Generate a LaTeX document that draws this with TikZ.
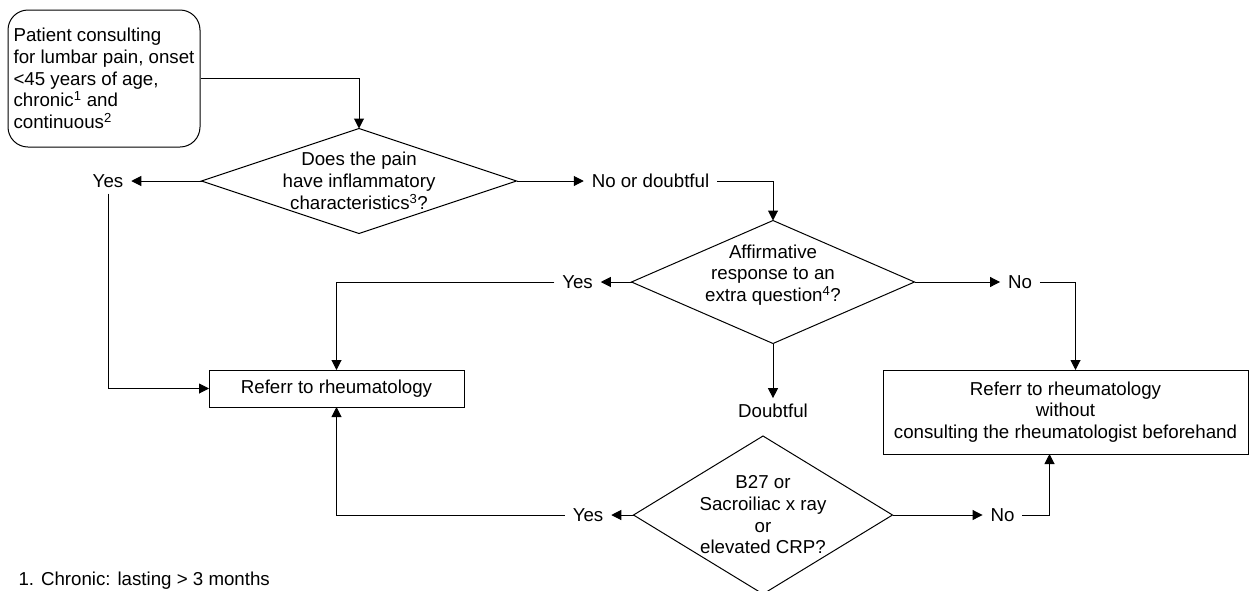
\documentclass[tikz,border=0pt]{standalone}
\usepackage{fontspec}
\setmainfont{Liberation Sans}
\usetikzlibrary{arrows.meta,positioning,shapes.geometric}

\begin{document}
\begin{tikzpicture}[x=1pt, y=-1pt, >={Triangle[length=10pt,width=10pt]}, line width=1pt, font=\fontsize{18.7}{21.7}\selectfont]
	    \tikzstyle{start}=[draw, rectangle, rounded corners=20pt, align=left, minimum width=192pt, minimum height=137pt, inner sep=2pt]
	    \tikzstyle{decision}=[draw, diamond, inner sep=0pt, outer sep=0pt]
	    \tikzstyle{box}=[draw, rectangle, align=center, inner sep=0pt, outer sep=0pt]
	    \tikzstyle{answer}=[inner sep=0pt, outer xsep=8pt, outer ysep=6pt]

	    \useasboundingbox (0,0) rectangle (1250,590);
	    \clip (0,0) rectangle (1250,590);

	    \node[start] (patient) at (104,78.5) {Patient consulting\\ for lumbar pain, onset\\ <45 years of age,\\ chronic\textsuperscript{1} and\\ continuous\textsuperscript{2}};
	    \node[decision, minimum width=315pt, minimum height=105pt, label={[align=center]center:Does the pain\\ have inflammatory\\ characteristics\textsuperscript{3}?}] (inflam) at (359,181) {};
	    \node[answer] (yes1) at (108,181) {Yes};
	    \node[answer] (nodoubt) at (650.5,181) {No or doubtful};
	    \node[decision, minimum width=283pt, minimum height=123pt, label={[align=center, yshift=7pt]center:Affirmative\\ response to an\\ extra question\textsuperscript{4}?}] (extra) at (773,282) {};
	    \node[answer] (yes2) at (577.5,282) {Yes};
	    \node[answer] (no2) at (1020,282) {No};
	    \node[answer] (doubt) at (773,411) {Doubtful};
	    \node[box, minimum width=255pt, minimum height=37pt] (rheum) at (336.5,388.5) {Referr to rheumatology};
	    \node[box, minimum width=365pt, minimum height=84pt] (direct) at (1065.5,412) {Referr to rheumatology\\ without\\ consulting the rheumatologist beforehand};
	    \node[decision, minimum width=259pt, minimum height=158pt, label={[align=center]center:B27 or\\ Sacroiliac x ray\\ or\\ elevated CRP?}] (crp) at (763,515) {};
	    \node[answer] (yes3) at (588,515) {Yes};
	    \node[answer] (no3) at (1002.5,515) {No};
	    \node[anchor=base west, inner sep=0pt] (note1) at (18,585) {1. Chronic: lasting > 3 months};

	    \draw[->] (patient.east) -| (inflam.north);
	    \draw[->] (inflam.west) -- (yes1);
	    \draw[->] (yes1.south) |- (rheum.west);
	    \draw[->] (inflam.east) -- (nodoubt);
	    \draw[->] (nodoubt.east) -| (extra.north);
	    \draw[->] (extra.west) -- (yes2);
	    \draw[->] (yes2.west) -| (rheum.north);
	    \draw[->] (extra.east) -- (no2);
	    \draw[->] (no2.east) -| ([xshift=10pt]direct.north);
	    \draw[->] (extra.south) -- (doubt.north);
	    \draw[->] (crp.west) -- (yes3);
	    \draw[->] (yes3.west) -| (rheum.south);
	    \draw[->] (crp.east) -- (no3);
	    \draw[->] (no3.east) -| ([xshift=-16pt]direct.south);
\end{tikzpicture}
\end{document}
